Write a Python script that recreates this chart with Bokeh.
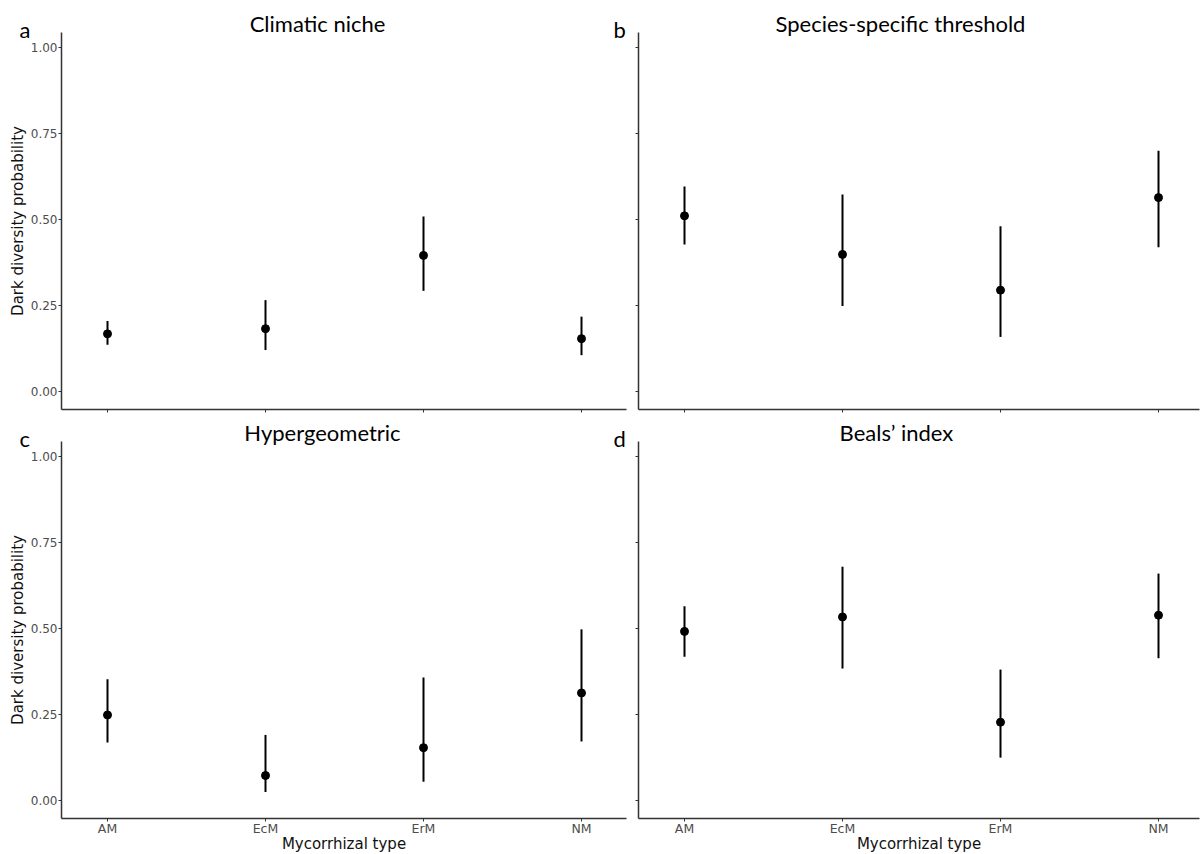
from bokeh.plotting import figure
from bokeh.layouts import column, row
from bokeh.models import Range1d, FixedTicker, PrintfTickFormatter, Label, ColumnDataSource
from bokeh.embed import file_html
from bokeh.resources import INLINE

# ---------------- data ----------------
categories = ["AM", "EcM", "ErM", "NM"]
y_ticks = [0.0, 0.25, 0.5, 0.75, 1.0]

titles = ["Climatic niche", "Species-specific threshold", "Hypergeometric", "Beals\u2019 index"]
letters = ["a", "b", "c", "d"]

climatic_mean = [0.169, 0.184, 0.397, 0.155]
climatic_low = [0.137, 0.122, 0.294, 0.107]
climatic_high = [0.206, 0.267, 0.510, 0.219]

threshold_mean = [0.512, 0.400, 0.296, 0.565]
threshold_low = [0.429, 0.250, 0.160, 0.421]
threshold_high = [0.597, 0.574, 0.482, 0.701]

hyper_mean = [0.250, 0.074, 0.155, 0.314]
hyper_low = [0.170, 0.026, 0.056, 0.173]
hyper_high = [0.354, 0.192, 0.359, 0.499]

beals_mean = [0.493, 0.535, 0.229, 0.540]
beals_low = [0.419, 0.385, 0.126, 0.415]
beals_high = [0.566, 0.681, 0.382, 0.661]

y_label = "Dark diversity probability"
x_label = "Mycorrhizal type"

# ---------------- geometry / styling ----------------
AXIS_FONT = "DejaVu Sans"
TITLE_FONT = "Lato"
PX_X = 158.0          # px per category step
PX_Y = 344.0          # px per probability unit
Y_LO, Y_HI = -0.05, 1.045
AXIS_GAP = 46         # px between y axis line and first category
COL_W = [633, 567]    # canvas widths (left, right column)
ROW_H = [420, 433]    # canvas heights (top, bottom row)
AXIS_CX = [61, 5]     # canvas px of y-axis line per column
XEND_CX = [626, 566]  # canvas px of right end of x axis per column
AXIS_CY = [32, 21]    # canvas px (from top) of top end of y axis per row
TITLE_CX = [[317, 267], [322, 263]]
LETTER_CX = 19
LETTER2_CX = 613
TEXT_SHIFT = 8        # baseline correction for labels

xpos = list(range(1, len(categories) + 1))


def make_panel(mean, low, high, col, rw, title, extra_letters):
    w, h = COL_W[col], ROW_H[rw]
    ax_x = xpos[0] - AXIS_GAP / PX_X
    x0 = xpos[0] - (AXIS_CX[col] + AXIS_GAP) / PX_X
    x1 = x0 + w / PX_X
    x_end_axis = x0 + XEND_CX[col] / PX_X
    y1 = Y_HI + AXIS_CY[rw] / PX_Y
    y0 = y1 - h / PX_Y

    p = figure(width=w, height=h, x_range=Range1d(x0, x1), y_range=Range1d(y0, y1),
               output_backend="svg", toolbar_location=None, title=None,
               min_border=0, min_border_left=0, min_border_right=0,
               min_border_top=0, min_border_bottom=0)
    p.background_fill_color = "white"
    p.border_fill_color = "white"
    p.outline_line_color = None
    p.grid.visible = False

    xa, ya = p.xaxis[0], p.yaxis[0]
    for ax in (xa, ya):
        ax.axis_line_color = "#333333"
        ax.axis_line_width = 1.5
        ax.major_tick_line_color = "#333333"
        ax.major_tick_line_width = 1
        ax.major_tick_in = 0
        ax.major_tick_out = 3
        ax.minor_tick_line_color = None
        ax.major_label_text_font = AXIS_FONT
        ax.major_label_text_color = "#4D4D4D"
        ax.axis_label_text_font = AXIS_FONT
        ax.axis_label_text_font_size = "15px"
        ax.axis_label_text_font_style = "normal"
        ax.axis_label_text_color = "#111111"
    ya.major_label_text_font_size = "12px"
    xa.major_label_text_font_size = "12.5px"

    xa.fixed_location = Y_LO
    xa.bounds = (ax_x, x_end_axis)
    ya.fixed_location = ax_x
    ya.bounds = (Y_LO, Y_HI)

    xa.ticker = FixedTicker(ticks=xpos)
    xa.major_label_overrides = {x: c for x, c in zip(xpos, categories)}
    ya.ticker = FixedTicker(ticks=y_ticks)
    ya.formatter = PrintfTickFormatter(format="%.2f")

    if col == 0:
        ya.axis_label = y_label
        ya.major_label_standoff = 1
        ya.axis_label_standoff = 1
    else:
        ya.major_label_text_color = None
    if rw == 1:
        xa.axis_label = x_label
        xa.major_label_standoff = 0
        xa.axis_label_standoff = -5
    else:
        xa.major_label_text_color = None

    src = ColumnDataSource(dict(x=xpos, m=mean, lo=low, hi=high))
    p.segment(x0="x", y0="lo", x1="x", y1="hi", source=src,
              line_color="black", line_width=2)
    p.scatter(x="x", y="m", source=src, size=8, fill_color="black",
              line_color="black")

    p.add_layout(Label(x=TITLE_CX[rw][col], y=h - AXIS_CY[rw] + 1 + TEXT_SHIFT,
                       x_units="screen", y_units="screen",
                       text=title, text_align="center", text_baseline="alphabetic",
                       text_font=TITLE_FONT, text_font_size="22px", text_color="black"))
    for txt, lx in extra_letters:
        p.add_layout(Label(x=lx, y=h - AXIS_CY[rw] - 5 + TEXT_SHIFT,
                           x_units="screen", y_units="screen",
                           text=txt, text_align="left", text_baseline="alphabetic",
                           text_font=TITLE_FONT, text_font_size="22px",
                           text_color="black"))
    return p


pa = make_panel(climatic_mean, climatic_low, climatic_high, 0, 0, titles[0],
                [(letters[0], LETTER_CX), (letters[1], LETTER2_CX)])
pb = make_panel(threshold_mean, threshold_low, threshold_high, 1, 0, titles[1], [])
pc = make_panel(hyper_mean, hyper_low, hyper_high, 0, 1, titles[2],
                [(letters[2], LETTER_CX), (letters[3], LETTER2_CX)])
pd = make_panel(beals_mean, beals_low, beals_high, 1, 1, titles[3], [])

layout = column(row(pa, pb), row(pc, pd))

open("out.html", "w").write(file_html(layout, INLINE))
